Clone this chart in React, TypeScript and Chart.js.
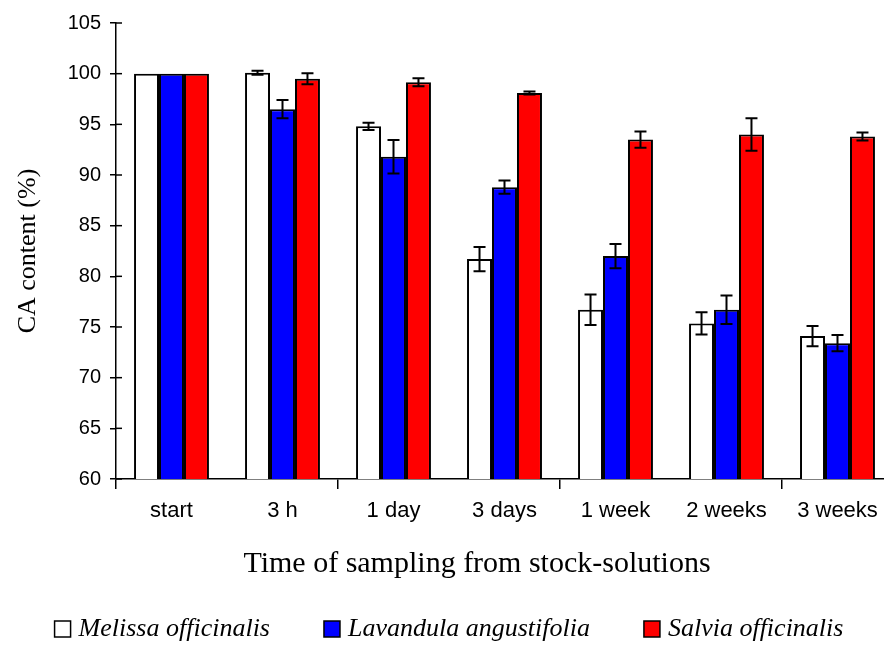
import React, { useEffect, useRef } from 'react';
import { Chart, registerables } from 'chart.js';

Chart.register(...registerables);

const categories = ['start', '3 h', '1 day', '3 days', '1 week', '2 weeks', '3 weeks'];
const seriesNames = ['Melissa officinalis', 'Lavandula angustifolia', 'Salvia officinalis'];
const seriesColors = ['#ffffff', '#0000ff', '#ff0000'];

const melissa = [100, 100.1, 94.8, 81.7, 76.7, 75.35, 74.1];
const melissaErr = [0, 0.2, 0.35, 1.2, 1.5, 1.1, 1.0];
const lavandula = [100, 96.5, 91.8, 88.8, 82.0, 76.7, 73.4];
const lavandulaErr = [0, 0.9, 1.65, 0.65, 1.2, 1.4, 0.8];
const salvia = [100, 99.5, 99.15, 98.1, 93.5, 94.0, 93.8];
const salviaErr = [0, 0.55, 0.4, 0.15, 0.8, 1.6, 0.4];

const yMin = 60;
const yMax = 105;
const yStep = 5;

const yTitle = 'CA content (%)';
const xTitle = 'Time of sampling from stock-solutions';

const errorBarsPlugin = {
  id: 'errorBars',
  afterDatasetsDraw(chart: any) {
    const ctx = chart.ctx;
    const y = chart.scales.y;
    chart.data.datasets.forEach((ds: any, i: number) => {
      const meta = chart.getDatasetMeta(i);
      meta.data.forEach((bar: any, j: number) => {
        const e = ds.errors[j];
        if (!e) return;
        const v = ds.data[j];
        const top = y.getPixelForValue(v + e);
        const bot = y.getPixelForValue(v - e);
        ctx.save();
        ctx.strokeStyle = '#000';
        ctx.lineWidth = 2;
        ctx.beginPath();
        ctx.moveTo(bar.x, top);
        ctx.lineTo(bar.x, bot);
        ctx.moveTo(bar.x - 6, top);
        ctx.lineTo(bar.x + 6, top);
        ctx.moveTo(bar.x - 6, bot);
        ctx.lineTo(bar.x + 6, bot);
        ctx.stroke();
        ctx.restore();
      });
    });
  },
};

const decorPlugin = {
  id: 'decor',
  afterDraw(chart: any) {
    const ctx = chart.ctx;
    const area = chart.chartArea;
    const y = chart.scales.y;
    ctx.save();
    // inner y ticks
    ctx.strokeStyle = '#000';
    ctx.lineWidth = 1.5;
    y.ticks.forEach((t: any) => {
      const py = y.getPixelForValue(t.value);
      ctx.beginPath();
      ctx.moveTo(area.left, py);
      ctx.lineTo(area.left + 6, py);
      ctx.stroke();
    });
    // x axis title
    ctx.fillStyle = '#000';
    ctx.font = '30px "Liberation Serif"';
    ctx.textAlign = 'center';
    ctx.textBaseline = 'middle';
    ctx.fillText(xTitle, area.left + 361, area.bottom + 85);
    // legend
    ctx.font = 'italic 26px "Liberation Serif"';
    ctx.textAlign = 'left';
    const box = 16;
    const gapBoxText = 8;
    const gapItems = 54;
    const widths = seriesNames.map((n) => box + gapBoxText + ctx.measureText(n).width);
    const total = widths.reduce((a, b) => a + b, 0) + gapItems * (seriesNames.length - 1);
    let x = 449 - total / 2;
    const cy = area.bottom + 150;
    seriesNames.forEach((n, i) => {
      ctx.fillStyle = seriesColors[i];
      ctx.fillRect(x, cy - box / 2, box, box);
      ctx.strokeStyle = '#000';
      ctx.lineWidth = 1.5;
      ctx.strokeRect(x, cy - box / 2, box, box);
      ctx.fillStyle = '#000';
      ctx.fillText(n, x + box + gapBoxText, cy);
      x += widths[i] + gapItems;
    });
    ctx.restore();
  },
};

export default function App() {
  const ref = useRef<HTMLCanvasElement | null>(null);

  useEffect(() => {
    if (!ref.current) return;
    const datasets = [
      { label: seriesNames[0], data: melissa, errors: melissaErr },
      { label: seriesNames[1], data: lavandula, errors: lavandulaErr },
      { label: seriesNames[2], data: salvia, errors: salviaErr },
    ].map((d, i) => ({
      ...d,
      backgroundColor: seriesColors[i],
      borderColor: '#000',
      borderWidth: 2,
      categoryPercentage: 0.675,
      barPercentage: 1.0,
    }));

    const chart = new Chart(ref.current, {
      type: 'bar',
      data: { labels: categories, datasets: datasets as any },
      options: {
        animation: false,
        responsive: true,
        maintainAspectRatio: false,
        layout: { padding: { left: 9, top: 23, right: 7, bottom: 0 } },
        plugins: {
          legend: { display: false },
          tooltip: { enabled: false },
        },
        scales: {
          x: {
            type: 'category',
            offset: true,
            grid: {
              offset: true,
              drawOnChartArea: false,
              tickLength: 10,
              lineWidth: 1.5,
              tickColor: (c: any) => (c.index % 2 === 0 ? '#000' : 'rgba(0,0,0,0)'),
              color: '#000',
            },
            border: { color: '#000', width: 1.5 },
            ticks: {
              color: '#000',
              font: { family: '"Liberation Sans"', size: 22 },
              padding: 9,
              maxRotation: 0,
              autoSkip: false,
            },
            afterFit: (s: any) => {
              s.height = 167;
            },
          },
          y: {
            min: yMin,
            max: yMax,
            ticks: {
              stepSize: yStep,
              color: '#000',
              font: { family: '"Liberation Sans"', size: 20 },
              padding: 9,
            },
            grid: {
              drawOnChartArea: false,
              tickLength: 6,
              lineWidth: 1.5,
              color: '#000',
            },
            border: { color: '#000', width: 1.5 },
            title: {
              display: true,
              text: yTitle,
              color: '#000',
              font: { family: '"Liberation Serif"', size: 26 },
              padding: { top: 4, bottom: 4 },
            },
            afterFit: (s: any) => {
              s.width = 107;
            },
          },
        },
      },
      plugins: [errorBarsPlugin, decorPlugin],
    });
    return () => chart.destroy();
  }, []);

  return (
    <div
      style={{
        position: 'fixed',
        left: 0,
        top: 0,
        width: 884,
        height: 646,
        overflow: 'hidden',
        background: '#fff',
      }}
    >
      <div style={{ position: 'relative', width: 900, height: 646 }}>
        <canvas ref={ref} />
      </div>
    </div>
  );
}
